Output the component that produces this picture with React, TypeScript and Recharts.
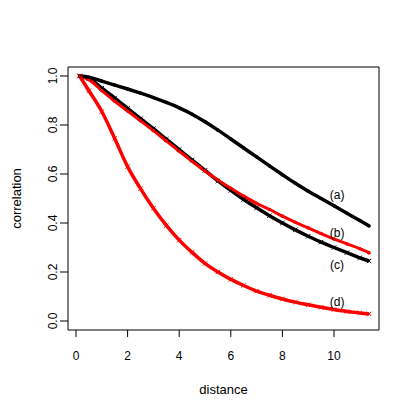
import {
  ComposedChart,
  Line,
  XAxis,
  YAxis,
  ReferenceArea,
  ReferenceDot,
} from "recharts";

// distances where the four curves were read
const distance = [
  0.14, 0.5, 1, 1.5, 2, 2.5, 3, 3.5, 4, 4.5, 5, 5.5, 6, 6.5, 7, 7.5, 8, 8.5, 9, 9.5, 10,
  10.5, 11, 11.36,
];
// (a) black dots
const corrA = [
  1.0, 0.995, 0.979, 0.963, 0.947, 0.93, 0.912, 0.892, 0.87, 0.844, 0.813, 0.779, 0.743,
  0.706, 0.67, 0.633, 0.597, 0.562, 0.53, 0.5, 0.47, 0.44, 0.41, 0.388,
];
// (b) red dots
const corrB = [
  1.0, 0.985, 0.94, 0.897, 0.857, 0.817, 0.777, 0.735, 0.693, 0.652, 0.612, 0.575, 0.542,
  0.51, 0.48, 0.455, 0.428, 0.403, 0.38, 0.357, 0.335, 0.315, 0.295, 0.278,
];
// (c) black crosses
const corrC = [
  1.0, 0.99, 0.95, 0.91, 0.868, 0.826, 0.785, 0.742, 0.7, 0.657, 0.615, 0.572, 0.533,
  0.496, 0.462, 0.43, 0.4, 0.372, 0.346, 0.322, 0.3, 0.279, 0.258, 0.245,
];
// (d) red crosses
const corrD = [
  1.0, 0.94, 0.855, 0.745, 0.63, 0.54, 0.46, 0.39, 0.33, 0.28, 0.235, 0.2, 0.17, 0.145,
  0.122, 0.105, 0.09, 0.077, 0.066, 0.056, 0.047, 0.039, 0.033, 0.029,
];

const xTicks = [0, 2, 4, 6, 8, 10];
const yTicks = [0, 0.2, 0.4, 0.6, 0.8, 1.0];

const curveNames = ["(a)", "(b)", "(c)", "(d)"];
const labelX = [10.12, 10.12, 10.12, 10.12];
const labelY = [0.517, 0.36, 0.229, 0.079];

const X_DOMAIN: [number, number] = [-0.31, 11.744];
const Y_DOMAIN: [number, number] = [-0.0367, 1.0367];

const data = distance.map((x, i) => ({
  x,
  a: corrA[i],
  b: corrB[i],
  c: corrC[i],
  d: corrD[i],
}));

const dotMark = (color: string) => (p: any) => (
  <circle key={`d${p.index}`} cx={p.cx} cy={p.cy} r={1.8} fill={color} stroke="none" />
);

const crossMark = (color: string) => (p: any) => {
  const s = 2.2;
  return (
    <path
      key={`x${p.index}`}
      d={`M${p.cx - s},${p.cy - s}L${p.cx + s},${p.cy + s}M${p.cx - s},${p.cy + s}L${p.cx + s},${p.cy - s}`}
      stroke={color}
      strokeWidth={1}
      fill="none"
    />
  );
};

function XTick({ x, y, payload }: any) {
  return (
    <text x={x} y={y + 21} textAnchor="middle" fontSize={12} fill="#000">
      {payload.value}
    </text>
  );
}

function YTick({ x, y, payload }: any) {
  const bx = x - 0.5;
  return (
    <text
      x={bx}
      y={y}
      transform={`rotate(-90, ${bx}, ${y})`}
      textAnchor="middle"
      fontSize={12}
      fill="#000"
    >
      {payload.value.toFixed(1)}
    </text>
  );
}

function YLabel({ viewBox }: any) {
  const bx = viewBox.x - 7.5;
  const cy = viewBox.y + viewBox.height / 2;
  return (
    <text
      x={bx}
      y={cy}
      transform={`rotate(-90, ${bx}, ${cy})`}
      textAnchor="middle"
      fontSize={13}
      fill="#000"
    >
      correlation
    </text>
  );
}

function XLabel({ viewBox }: any) {
  return (
    <text
      x={viewBox.x + viewBox.width / 2}
      y={viewBox.y + 64}
      textAnchor="middle"
      fontSize={13}
      fill="#000"
    >
      distance
    </text>
  );
}

function CurveLabel({ viewBox, value }: any) {
  return (
    <text
      x={viewBox.x + viewBox.width / 2}
      y={viewBox.y + viewBox.height / 2 + 4.5}
      textAnchor="middle"
      fontSize={12}
      fill="#000"
      stroke="none"
    >
      {value}
    </text>
  );
}

export default function App() {
  return (
    <div
      style={{
        position: "absolute",
        left: 0,
        top: 0,
        width: 415,
        height: 415,
        background: "#fff",
        fontFamily: '"Liberation Sans", Arial, sans-serif',
      }}
    >
      <ComposedChart
        width={415}
        height={415}
        data={data}
        margin={{ top: 67, right: 36, bottom: 55, left: 28 }}
      >
        <XAxis
          dataKey="x"
          type="number"
          domain={X_DOMAIN}
          ticks={xTicks}
          allowDataOverflow
          axisLine={false}
          tickSize={7}
          tickLine={{ stroke: "#000" }}
          tick={<XTick />}
          height={30}
          label={<XLabel />}
        />
        <YAxis
          type="number"
          domain={Y_DOMAIN}
          ticks={yTicks}
          allowDataOverflow
          axisLine={false}
          tickSize={8}
          tickLine={{ stroke: "#000" }}
          tick={<YTick />}
          width={40}
          label={<YLabel />}
        />
        <ReferenceArea
          x1={X_DOMAIN[0]}
          x2={X_DOMAIN[1]}
          y1={Y_DOMAIN[0]}
          y2={Y_DOMAIN[1]}
          fill="none"
          fillOpacity={0}
          stroke="#000"
          strokeWidth={1}
        />
        <Line
          dataKey="c"
          type="monotone"
          stroke="#000"
          strokeWidth={3.5}
          dot={crossMark("#000")}
          isAnimationActive={false}
        />
        <Line
          dataKey="b"
          type="monotone"
          stroke="#f00"
          strokeWidth={3}
          dot={dotMark("#f00")}
          isAnimationActive={false}
        />
        <Line
          dataKey="a"
          type="monotone"
          stroke="#000"
          strokeWidth={3.5}
          dot={dotMark("#000")}
          isAnimationActive={false}
        />
        <Line
          dataKey="d"
          type="monotone"
          stroke="#f00"
          strokeWidth={3.5}
          dot={crossMark("#f00")}
          isAnimationActive={false}
        />
        {curveNames.map((n, i) => (
          <ReferenceDot
            key={n}
            x={labelX[i]}
            y={labelY[i]}
            r={0}
            fill="none"
            stroke="none"
            label={<CurveLabel value={n} />}
          />
        ))}
      </ComposedChart>
    </div>
  );
}
